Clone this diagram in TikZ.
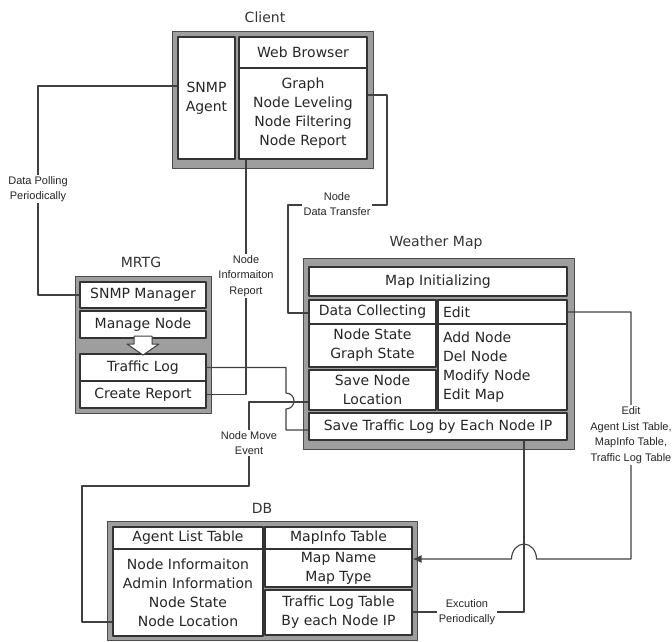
\documentclass[tikz,border=0pt]{standalone}
\usepackage{fontspec}
\setmainfont{DejaVu Sans}
\newfontfamily\lblfont{Liberation Sans}
\usetikzlibrary{positioning,arrows.meta}

\begin{document}
\begin{tikzpicture}[x=1pt,y=-1pt,line join=round,>={Latex[length=9pt,width=8pt]},
  every node/.style={inner sep=0pt},
  frame/.style={draw=black!70,fill=black!38,line width=1pt},
  cell/.style={draw=black!80,fill=white,line width=1.2pt,align=center,text=black!85,font=\fontsize{14}{19}\selectfont},
  lcell/.style={cell,align=left,text width=119pt,inner xsep=5pt},
  title/.style={text=black!80,font=\fontsize{14}{17}\selectfont},
  link/.style={draw=black!75,line width=1.1pt},
  lbl/.style={fill=white,inner sep=1.5pt,align=center,text=black!85,font=\lblfont\fontsize{11}{15.5}\selectfont}]
  \useasboundingbox (0,0) rectangle (672,641);

  % frames
  \node[frame,minimum width=201pt,minimum height=137pt] (client) at (272.5,99.5) {};
  \node[frame,minimum width=136pt,minimum height=137pt] (mrtg) at (143,344.5) {};
  \node[frame,minimum width=271pt,minimum height=191pt] (wm) at (438.5,353.5) {};
  \node[frame,minimum width=310pt,minimum height=119pt] (db) at (262,580.5) {};
  \node[title] (clientttl) at (265,17) {Client};
  \node[title] (mrtgttl) at (141,262) {MRTG};
  \node[title] (wmttl) at (436,243) {Weather Map};
  \node[title] (dbttl) at (262,508) {DB};

  % Client
  \node[cell,minimum width=57pt,minimum height=122pt] (agent) at (206.5,98) {SNMP\\Agent};
  \node[cell,minimum width=128pt,minimum height=31pt] (browser) at (303,52.5) {Web Browser};
  \node[cell,minimum width=128pt,minimum height=91pt] (graph) at (303,113.5) {Graph\\Node Leveling\\Node Filtering\\Node Report};

  % MRTG
  \node[cell,minimum width=126pt,minimum height=26pt] (snmpmgr) at (143,295) {SNMP Manager};
  \node[cell,minimum width=126pt,minimum height=27pt] (managenode) at (143,324.5) {Manage Node};
  \node[cell,minimum width=126pt,minimum height=27pt] (trafficlog) at (143,367.5) {Traffic Log};
  \node[cell,minimum width=126pt,minimum height=27pt] (report) at (143,394.5) {Create Report};
  \draw[draw=black!75,fill=white,line width=1pt] (134,336) -- (152,336) -- (152,344) -- (159,344)
    -- (143,355) -- (127,344) -- (134,344) -- cycle;

  % Weather Map
  \node[cell,minimum width=258pt,minimum height=29pt] (mapinit) at (438,281.5) {Map Initializing};
  \node[cell,minimum width=127pt,minimum height=24pt] (collect) at (372.5,312) {Data Collecting};
  \node[cell,minimum width=127pt,minimum height=43pt] (state) at (372.5,345.5) {Node State\\Graph State};
  \node[cell,minimum width=127pt,minimum height=40pt] (savenode) at (372.5,390) {Save Node\\Location};
  \node[lcell,minimum height=24pt] (edit) at (502.5,312) {Edit};
  \node[lcell,minimum height=86pt] (editlist) at (502.5,367) {Add Node\\Del Node\\Modify Node\\Edit Map};
  \node[cell,minimum width=258pt,minimum height=27pt] (savetraffic) at (438,426.5) {Save Traffic Log by Each Node IP};

  % DB
  \node[cell,minimum width=150pt,minimum height=22pt] (agentlist) at (188,538) {Agent List Table};
  \node[cell,minimum width=150pt,minimum height=87pt] (nodeinfo) at (188,592.5) {Node Informaiton\\Admin Information\\Node State\\Node Location};
  \node[cell,minimum width=147pt,minimum height=22pt] (mapinfo) at (338.5,538) {MapInfo Table};
  \node[cell,minimum width=147pt,minimum height=38pt] (mapname) at (338.5,568) {Map Name\\Map Type};
  \node[cell,minimum width=147pt,minimum height=45pt] (trafftable) at (338.5,612.5) {Traffic Log Table\\By each Node IP};

  % connectors
  \draw[link] (agent.west |- 0,86) -| (38,295) -- (snmpmgr.west);
  \draw[link] (graph.east |- 0,95) -| (387,205) -| (288,313) -- (collect.west |- 0,313);
  \draw[link] (report.east) -| (graph.south -| 246,0);
  \draw[link] (trafficlog.east) -- (286,367.5) -- (286,393) arc[start angle=-90,end angle=90,radius=8]
    |- (savetraffic.west |- 0,430);
  \draw[link] (savenode.west |- 0,402) -| (249,486) -| (82,622) -- (nodeinfo.west |- 0,622);
  \draw[link] (trafftable.east |- 0,612) -| (savetraffic.south -| 524,0);
  \draw[link,->] (edit.east) -| (631,559) -- (536.5,559) arc[start angle=0,end angle=-180,x radius=12.5,y radius=15]
    -- (mapname.east |- 0,559);
  \node[lbl] (polling) at (38,189) {Data Polling\\Periodically};
  \node[lbl] (transfer) at (337,204) {Node\\Data Transfer};
  \node[lbl] (inforeport) at (246,276) {Node\\Informaiton\\Report};
  \node[lbl] (moveevent) at (249,443) {Node Move\\Event};
  \node[lbl] (editlbl) at (631,435) {Edit\\Agent List Table,\\MapInfo Table,\\Traffic Log Table};
  \node[lbl] (excution) at (467,612) {Excution\\Periodically};
\end{tikzpicture}
\end{document}
